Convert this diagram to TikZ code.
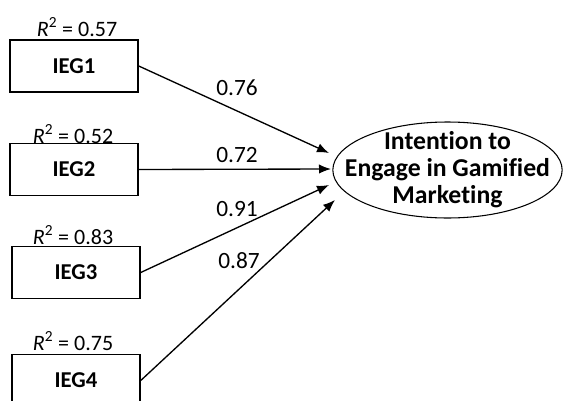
\documentclass[tikz,border=0pt]{standalone}
\usepackage{fontspec}
\setmainfont[Ligatures=NoCommon]{Carlito}
\usetikzlibrary{arrows.meta,shapes.geometric}
\begin{document}
\begin{tikzpicture}[x=0.75pt,y=-0.75pt,
  box/.style={draw, line width=1.1pt, minimum width=96pt, minimum height=39pt, inner sep=0pt, font=\fontsize{17}{20}\selectfont\bfseries},
  lat/.style={draw, ellipse, line width=0.8pt, minimum width=172pt, minimum height=72pt, inner sep=0pt},
  lattxt/.style={inner sep=0pt, align=center, font=\fontsize{19.3}{20.3}\selectfont\bfseries},
  lbl/.style={inner sep=0pt, font=\fontsize{17.5}{18}\selectfont},
  rlbl/.style={inner sep=0pt, font=\fontsize{16.5}{18}\selectfont},
  arr/.style={line width=1pt, -{Latex[length=9pt,width=7pt]}}]
\useasboundingbox (0,0) rectangle (564,400);
\clip (0,0) rectangle (564,400);
\node[box] (b1) at (74,66) {IEG1};
\node[box] (b2) at (74,169.5) {IEG2};
\node[box] (b3) at (76,272.5) {IEG3};
\node[box] (b4) at (76,380.5) {IEG4};
\node[rlbl] (r1) at (77,27) {\textit{R}\textsuperscript{2} = 0.57};
\node[rlbl] (r2) at (73,134) {\textit{R}\textsuperscript{2} = 0.52};
\node[rlbl] (r3) at (73,235) {\textit{R}\textsuperscript{2} = 0.83};
\node[rlbl] (r4) at (73,341) {\textit{R}\textsuperscript{2} = 0.75};
\node[lat] (e) at (447.5,170) {};
\node[lattxt] (et) at (e.center) {Intention to\\Engage in Gamified\\Marketing};
\coordinate (t1) at (329,153);
\coordinate (t2) at (331,169);
\coordinate (t3) at (329,185);
\coordinate (t4) at (335,200);
\draw[arr] (b1.east) -- (t1);
\draw[arr] (b2.east) -- (t2);
\draw[arr] (b3.east) -- (t3);
\draw[arr] (b4.east) -- (t4);
\node[lbl] (l1) at (237,88) {0.76};
\node[lbl] (l2) at (237,155) {0.72};
\node[lbl] (l3) at (237,209) {0.91};
\node[lbl] (l4) at (239,261) {0.87};
\end{tikzpicture}
\end{document}
